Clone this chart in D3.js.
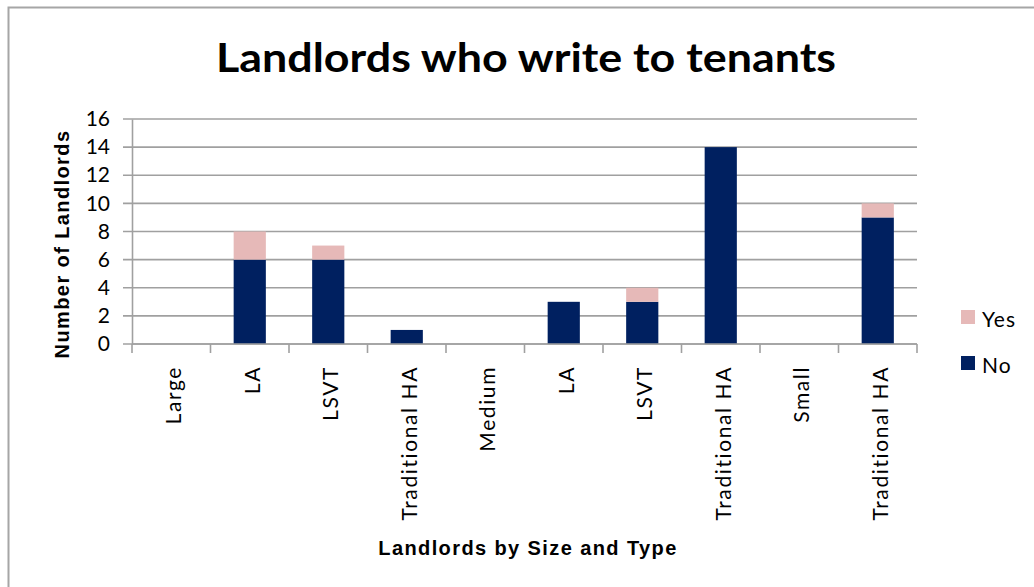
<!DOCTYPE html>
<html>
<head>
<meta charset="utf-8">
<script src="https://cdn.jsdelivr.net/npm/d3@7"></script>
<style>
  body { margin: 0; background: #fff; }
  svg { display: block; }
</style>
</head>
<body>
<svg id="chart" width="1034" height="587"></svg>
<script>
// chart values
var categories = ["Large", "LA", "LSVT", "Traditional HA", "Medium", "LA", "LSVT", "Traditional HA", "Small", "Traditional HA"];
var noValues  = [0, 6, 6, 1, 0, 3, 3, 14, 0, 9];
var yesValues = [0, 2, 1, 0, 0, 0, 1, 0, 0, 1];
var seriesNames = ["No", "Yes"];
var yTicks = [0, 2, 4, 6, 8, 10, 12, 14, 16];

var colors = { No: "#002060", Yes: "#e6b9b8" };
var tickFont = "Lato, 'Open Sans', sans-serif";
var boldFont = "'Liberation Sans', Arial, sans-serif";

var svg = d3.select("#chart");
var margin = { top: 119, left: 132, right: 117, bottom: 243 },
    width = 1034 - margin.left - margin.right,
    height = 587 - margin.top - margin.bottom;

// outer chart border
svg.append("rect")
    .attr("x", 8.5).attr("y", 7.5)
    .attr("width", 1040).attr("height", 600)
    .attr("fill", "none")
    .attr("stroke", "#a6a6a6")
    .attr("stroke-width", 2);

// table for the stack, keyed by index since labels repeat
var rows = categories.map(function(c, i) {
    return { idx: i, No: noValues[i], Yes: yesValues[i] };
});
var stacked = d3.stack().keys(seriesNames)(rows);

var x = d3.scaleBand()
    .domain(d3.range(categories.length))
    .range([0, width])
    .paddingInner(0.59)
    .paddingOuter(0.295);
var y = d3.scaleLinear().domain([0, 16]).range([height, 0]);

var g = svg.append("g").attr("transform", "translate(" + margin.left + "," + margin.top + ")");

// gridlines
g.append("g")
    .selectAll("line")
    .data(yTicks)
    .join("line")
    .attr("x1", -9).attr("x2", width)
    .attr("y1", function(d) { return y(d); })
    .attr("y2", function(d) { return y(d); })
    .attr("stroke", "#a0a0a0")
    .attr("stroke-width", 1.6);

// y axis
var yAxis = g.append("g")
    .call(d3.axisLeft(y).tickValues(yTicks).tickSize(0).tickPadding(22));
yAxis.select(".domain").attr("stroke", "#a0a0a0").attr("stroke-width", 1.6);
yAxis.selectAll("text")
    .attr("font-family", tickFont)
    .attr("font-size", 21)
    .attr("fill", "#000");

// bars
g.append("g")
    .selectAll("g")
    .data(stacked)
    .join("g")
    .attr("fill", function(d) { return colors[d.key]; })
    .selectAll("rect")
    .data(function(d) { return d; })
    .join("rect")
    .attr("x", function(d) { return x(d.data.idx); })
    .attr("width", x.bandwidth())
    .attr("y", function(d) { return y(d[1]); })
    .attr("height", function(d) { return y(d[0]) - y(d[1]); });

// x axis line and ticks at band edges
var step = x.step();
var xg = g.append("g").attr("transform", "translate(0," + height + ")");
xg.append("line")
    .attr("x1", 0).attr("x2", width)
    .attr("stroke", "#a0a0a0").attr("stroke-width", 1.6);
xg.selectAll(".tk")
    .data(d3.range(categories.length + 1))
    .join("line")
    .attr("class", "tk")
    .attr("x1", function(d) { return d * step; })
    .attr("x2", function(d) { return d * step; })
    .attr("y1", 0).attr("y2", 9)
    .attr("stroke", "#a0a0a0").attr("stroke-width", 1.6);
xg.selectAll(".lbl")
    .data(categories)
    .join("text")
    .attr("class", "lbl")
    .attr("transform", function(d, i) {
        return "translate(" + (x(i) + x.bandwidth() / 2 + 10) + ",22) rotate(-90)";
    })
    .attr("text-anchor", "end")
    .attr("font-family", tickFont)
    .attr("font-size", 21)
    .attr("letter-spacing", 1.6)
    .attr("fill", "#000")
    .text(function(d) { return d; });

// title
svg.append("text")
    .attr("x", 526).attr("y", 72)
    .attr("text-anchor", "middle")
    .attr("font-family", "Lato, sans-serif")
    .attr("font-weight", "bold")
    .attr("font-size", 41)
    .attr("textLength", 620)
    .attr("lengthAdjust", "spacingAndGlyphs")
    .text("Landlords who write to tenants");

// axis titles
svg.append("text")
    .attr("transform", "translate(69,244) rotate(-90)")
    .attr("text-anchor", "middle")
    .attr("font-family", boldFont)
    .attr("font-weight", "bold")
    .attr("font-size", 20)
    .attr("letter-spacing", 1.4)
    .text("Number of Landlords");

svg.append("text")
    .attr("x", 528).attr("y", 555)
    .attr("text-anchor", "middle")
    .attr("font-family", boldFont)
    .attr("font-weight", "bold")
    .attr("font-size", 20)
    .attr("letter-spacing", 1.4)
    .text("Landlords by Size and Type");

// legend, Yes above No
var legend = svg.append("g").attr("transform", "translate(961,310)");
var legendItems = legend.selectAll("g")
    .data(["Yes", "No"])
    .join("g")
    .attr("transform", function(d, i) { return "translate(0," + (i * 46) + ")"; });
legendItems.append("rect")
    .attr("width", 14).attr("height", 14)
    .attr("fill", function(d) { return colors[d]; });
legendItems.append("text")
    .attr("x", 21).attr("y", 17)
    .attr("font-family", tickFont)
    .attr("font-size", 21)
    .attr("letter-spacing", 1)
    .text(function(d) { return d; });
</script>
</body>
</html>
